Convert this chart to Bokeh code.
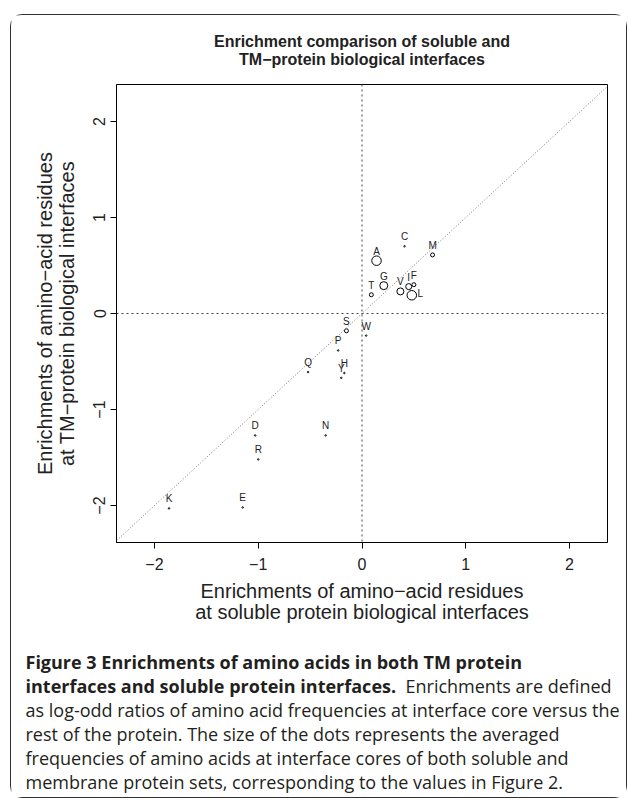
import numpy as np
from bokeh.plotting import figure
from bokeh.layouts import column
from bokeh.models import (ColumnDataSource, LabelSet, Label, Span, Slope, FixedTicker, Range1d)
from bokeh.embed import file_html
from bokeh.resources import INLINE
from bokeh.core.properties import value

# ---------------- data ----------------
residues = ["A", "C", "D", "E", "F", "G", "H", "I", "K", "L",
            "M", "N", "P", "Q", "R", "S", "T", "V", "W", "Y"]
soluble_enrichment = [0.14, 0.41, -1.03, -1.15, 0.50, 0.21, -0.17, 0.45, -1.86, 0.48,
                      0.68, -0.35, -0.23, -0.52, -1.00, -0.15, 0.09, 0.37, 0.04, -0.20]
tm_enrichment = [0.55, 0.70, -1.27, -2.02, 0.30, 0.29, -0.62, 0.28, -2.03, 0.19,
                 0.61, -1.27, -0.385, -0.61, -1.52, -0.18, 0.195, 0.23, -0.23, -0.67]
# averaged interface-core frequency (%)
avg_frequency = [9.5, 1.5, 1.5, 1.5, 4.0, 8.0, 1.5, 6.0, 1.5, 9.5,
                 4.0, 1.5, 1.5, 1.5, 1.5, 4.0, 4.0, 7.0, 1.5, 1.5]
tick_values = [-2, -1, 0, 1, 2]
tick_labels = ["\u22122", "\u22121", "0", "1", "2"]

title_lines = ["Enrichment comparison of soluble and",
               "TM\u2212protein biological interfaces"]
xlab_text = "Enrichments of amino\u2212acid residues\nat soluble protein biological interfaces"
ylab_text = "Enrichments of amino\u2212acid residues\nat TM\u2212protein biological interfaces"

caption_bold_1 = "Figure 3 Enrichments of amino acids in both TM protein"
caption_bold_2 = "interfaces and soluble protein interfaces."
caption_lines = ["Enrichments are defined",
                 "as log-odd ratios of amino acid frequencies at interface core versus the",
                 "rest of the protein. The size of the dots represents the averaged",
                 "frequencies of amino acids at interface cores of both soluble and",
                 "membrane protein sets, corresponding to the values in Figure 2."]

FONT = "Liberation Sans"
INK = "#222222"
W = 615


def text_panel(height):
    f = figure(width=W, height=height, x_range=Range1d(0, W), y_range=Range1d(height, 0),
               output_backend="svg", toolbar_location=None, title_location=None,
               x_axis_location=None, y_axis_location=None, min_border=0)
    f.frame_align = False
    f.xgrid.visible = False
    f.ygrid.visible = False
    f.outline_line_color = None
    f.background_fill_color = "white"
    f.border_fill_color = "white"
    return f


# ---------------- title panel ----------------
TT_H = 60
tp = text_panel(TT_H)
for i, t in enumerate(title_lines):
    tp.add_layout(Label(x=350.5, y=26 + 18 * i, text=t, text_align="center", text_baseline="middle",
                        text_font=FONT, text_font_style="bold", text_font_size="16px",
                        text_color=INK))

# ---------------- chart ----------------
CH_H = 565
p = figure(width=W, height=CH_H, x_range=Range1d(-2.366, 2.366), y_range=Range1d(-2.385, 2.385),
           output_backend="svg", toolbar_location=None, title_location=None,
           min_border_left=105, min_border_right=19, min_border_top=9, min_border_bottom=98)
p.frame_align = False
p.background_fill_color = "white"
p.border_fill_color = "white"
p.xgrid.visible = False
p.ygrid.visible = False
p.outline_line_color = "black"
p.outline_line_width = 1
p.outline_line_alpha = 1

for ax in (p.xaxis, p.yaxis):
    ax.ticker = FixedTicker(ticks=tick_values)
    ax.major_label_overrides = {t: l for t, l in zip(tick_values, tick_labels)}
    ax.axis_line_color = "black"
    ax.major_tick_line_color = "black"
    ax.major_tick_out = 6
    ax.major_tick_in = 0
    ax.minor_tick_out = 0
    ax.minor_tick_in = 0
    ax.major_label_text_font = FONT
    ax.major_label_text_font_size = "16px"
    ax.major_label_text_color = INK
    ax.axis_label_text_font = FONT
    ax.axis_label_text_font_size = "20px"
    ax.axis_label_text_font_style = "normal"
    ax.axis_label_text_color = INK
    ax.axis_label_text_line_height = 0.985
p.xaxis.axis_label = xlab_text
p.yaxis.axis_label = ylab_text
p.xaxis.major_label_standoff = 9
p.yaxis.major_label_standoff = 5
p.xaxis.axis_label_standoff = 7
p.yaxis.axis_label_standoff = 13
p.yaxis.major_label_orientation = "vertical"

# reference lines
p.add_layout(Span(location=0, dimension="height", line_color="#444444", line_width=1, line_dash="2 3"))
p.add_layout(Span(location=0, dimension="width", line_color="#444444", line_width=1, line_dash="2 3"))
p.add_layout(Slope(gradient=1, y_intercept=0, line_color="#777777", line_width=1, line_dash="1 2"))

src = ColumnDataSource(dict(
    x=soluble_enrichment, y=tm_enrichment, aa=residues,
    size=[f * 1.0 for f in avg_frequency],
    xo=[8.5 if r == "L" else 0 for r in residues],
    yo=[1.5 if r == "L" else 9.5 for r in residues],
))
p.scatter("x", "y", source=src, size="size", marker="circle",
          fill_color=None, line_color="black", line_width=1)
p.add_layout(LabelSet(x="x", y="y", text="aa", source=src, x_offset="xo", y_offset="yo",
                      text_align="center", text_baseline="middle",
                      text_font=value(FONT), text_font_size="10px", text_color=INK))

# ---------------- caption ----------------
CP_H = 157
cp = text_panel(CP_H)
CAP_FONT = "Open Sans"
CAP_SIZE = "18px"
CAP_X = 14
CAP_Y0 = 21
CAP_DY = 24


def cap(text, x, line, bold=False):
    cp.add_layout(Label(x=x, y=CAP_Y0 + CAP_DY * line, text=text, text_align="left",
                        text_baseline="middle", text_font=CAP_FONT, text_font_size=CAP_SIZE,
                        text_font_style="bold" if bold else "normal", text_color="#231f20"))


cap(caption_bold_1, CAP_X, 0, True)
cap(caption_bold_2, CAP_X, 1, True)
cap(caption_lines[0], 394, 1)
for i, t in enumerate(caption_lines[1:]):
    cap(t, CAP_X, 2 + i)

layout = column(tp, p, cp, spacing=0,
                styles={"border": "1px solid #333333", "border-radius": "12px",
                        "margin-left": "10px", "margin-top": "14px"})

open("out.html", "w").write(file_html(layout, INLINE))
